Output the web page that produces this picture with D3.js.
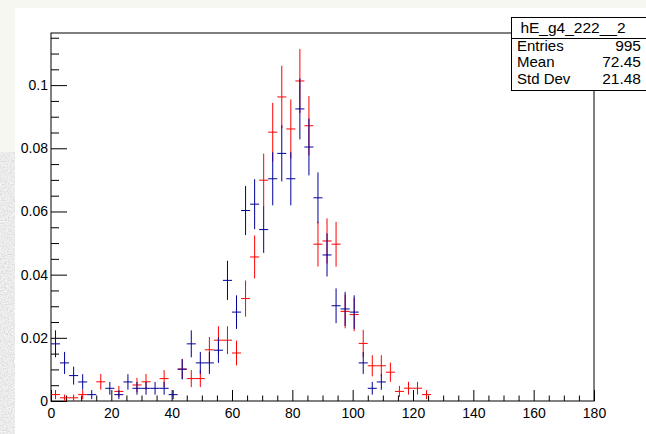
<!DOCTYPE html>
<html>
<head>
<meta charset="utf-8">
<script src="https://cdn.jsdelivr.net/npm/d3@7/dist/d3.min.js"></script>
<style>
  html, body { margin: 0; padding: 0; background: #f6f7f1; }
  svg { display: block; }
  text { font-family: "Liberation Sans", Arial, Helvetica, sans-serif; fill: #000; }
</style>
</head>
<body>
<svg id="chart" width="646" height="434"></svg>
<script>
// Histogram binning: 60 bins of width 3 over [0, 180]
const binWidth = 3;
const xRange = [0, 180];

// Bin contents (counts) for hE_g4_222__2 (blue) and the comparison sample (red)
const blueCounts = [18, 12, 8, 6, 2, 0, 4, 2, 6, 4, 4, 4, 4, 2, 10, 18, 12, 12, 16, 38,
                    28, 60, 62, 54, 70, 78, 70, 92, 80, 64, 46, 30, 29, 28, 12, 4, 6, 0, 0, 0,
                    0, 0, 0, 0, 0, 0, 0, 0, 0, 0, 0, 0, 0, 0, 0, 0, 0, 0, 0, 0];
const redCounts  = [2, 1, 1, 2, 0, 6, 0, 3, 0, 5, 6, 0, 7, 0, 10, 7, 7, 16, 19, 19,
                    15, 32, 45, 69, 84, 95, 85, 100, 86, 49, 50, 49, 28, 27, 18, 11, 11, 9, 3, 4,
                    4, 2, 0, 0, 0, 0, 0, 0, 0, 0, 0, 0, 0, 0, 0, 0, 0, 0, 0, 0];

// Axis ticks
const xMajorTicks = [0, 20, 40, 60, 80, 100, 120, 140, 160, 180];
const yMajorTicks = [0, 0.02, 0.04, 0.06, 0.08, 0.1];
const yTickLabels = ["0", "0.02", "0.04", "0.06", "0.08", "0.1"];
const yMax = 0.1165;

// Statistics box
const statsTitle = "hE_g4_222__2";
const statsNames = ["Entries", "Mean", "Std Dev"];
const statsValues = ["995", "72.45", "21.48"];

const svg = d3.select("#chart");
const W = 646, H = 434;

// Page backdrop
const defs = svg.append("defs");
const grain = defs.append("filter").attr("id", "grain").attr("x", 0).attr("y", 0)
  .attr("width", "100%").attr("height", "100%");
grain.append("feTurbulence").attr("type", "fractalNoise").attr("baseFrequency", 0.7)
  .attr("numOctaves", 2).attr("seed", 4).attr("result", "n");
grain.append("feColorMatrix").attr("in", "n").attr("type", "matrix")
  .attr("values", "0.25 0.25 0.25 0 0.45  0.25 0.25 0.25 0 0.45  0.25 0.25 0.25 0 0.45  0 0 0 0 1")
  .attr("result", "g");
grain.append("feComposite").attr("in", "g").attr("in2", "SourceGraphic").attr("operator", "in");

svg.append("rect").attr("x", 0).attr("y", 0).attr("width", W).attr("height", H).attr("fill", "#f6f7f1");
svg.append("rect").attr("x", 0).attr("y", 152).attr("width", 15).attr("height", H - 152)
  .attr("fill", "#cfcfcf").attr("filter", "url(#grain)");
svg.append("rect").attr("x", 15).attr("y", 8).attr("width", W - 15).attr("height", H - 8).attr("fill", "#ffffff");

// Frame geometry
const frame = { left: 51, right: 594, top: 33, bottom: 401 };
const x = d3.scaleLinear().domain(xRange).range([frame.left, frame.right]);
const y = d3.scaleLinear().domain([0, yMax]).range([frame.bottom, frame.top]);

defs.append("clipPath").attr("id", "frameClip")
  .append("rect").attr("x", frame.left).attr("y", frame.top)
  .attr("width", frame.right - frame.left).attr("height", frame.bottom - frame.top);

// Axes: ticks point into the frame
const xMinor = d3.range(0, 181, 5).filter(v => v % 20 !== 0);
const yMinor = d3.range(0, 0.1166, 0.005).filter(v => Math.abs(v / 0.02 - Math.round(v / 0.02)) > 1e-6);

const xAxisMinor = svg.append("g").attr("transform", `translate(0,${frame.bottom})`)
  .call(d3.axisBottom(x).tickValues(xMinor).tickSize(-5.5).tickSizeOuter(0).tickFormat(""));
xAxisMinor.select(".domain").remove();
const xAxisMajor = svg.append("g").attr("transform", `translate(0,${frame.bottom})`)
  .call(d3.axisBottom(x).tickValues(xMajorTicks).tickSize(-11).tickSizeOuter(0).tickPadding(7)
    .tickFormat(d3.format("d")));
xAxisMajor.select(".domain").remove();

const yAxisMinor = svg.append("g").attr("transform", `translate(${frame.left},0)`)
  .call(d3.axisLeft(y).tickValues(yMinor).tickSize(-8).tickSizeOuter(0).tickFormat(""));
yAxisMinor.select(".domain").remove();
const yAxisMajor = svg.append("g").attr("transform", `translate(${frame.left},0)`)
  .call(d3.axisLeft(y).tickValues(yMajorTicks).tickSize(-16).tickSizeOuter(0).tickPadding(3)
    .tickFormat((d, i) => yTickLabels[i]));
yAxisMajor.select(".domain").remove();

svg.selectAll(".tick line").attr("stroke", "#000").attr("stroke-width", 1);
svg.selectAll(".tick text").attr("font-size", 14)
  .attr("font-family", "'Liberation Sans', Arial, Helvetica, sans-serif").attr("fill", "#000");

// Frame
svg.append("rect").attr("x", frame.left).attr("y", frame.top)
  .attr("width", frame.right - frame.left).attr("height", frame.bottom - frame.top)
  .attr("fill", "none").attr("stroke", "#000").attr("stroke-width", 1);

// Normalised histograms drawn with error crosses (skip empty bins)
function drawHist(counts, color) {
  const total = d3.sum(counts);
  const bins = counts.map((c, i) => ({
    lo: i * binWidth, hi: (i + 1) * binWidth, mid: (i + 0.5) * binWidth,
    v: c / total, e: Math.sqrt(c) / total, c
  })).filter(d => d.c > 0);
  const g = svg.append("g").attr("clip-path", "url(#frameClip)")
    .attr("stroke", color).attr("stroke-width", 1).attr("fill", "none");
  g.selectAll("line.h").data(bins).join("line").attr("class", "h")
    .attr("x1", d => x(d.lo)).attr("x2", d => x(d.hi))
    .attr("y1", d => y(d.v)).attr("y2", d => y(d.v));
  g.selectAll("line.v").data(bins).join("line").attr("class", "v")
    .attr("x1", d => x(d.mid)).attr("x2", d => x(d.mid))
    .attr("y1", d => y(d.v + d.e)).attr("y2", d => y(Math.max(0, d.v - d.e)));
}
drawHist(redCounts, "#ff0000");
drawHist(blueCounts, "#000099");

// Statistics box
const sb = { x: 511, y: 17, w: 140, h: 73, sep: 38 };
svg.append("rect").attr("x", sb.x + 0.5).attr("y", sb.y + 0.5).attr("width", sb.w).attr("height", sb.h)
  .attr("fill", "#fff").attr("stroke", "#000").attr("stroke-width", 1);
svg.append("line").attr("x1", sb.x).attr("x2", sb.x + sb.w).attr("y1", sb.sep + 0.5).attr("y2", sb.sep + 0.5)
  .attr("stroke", "#000").attr("stroke-width", 1);
svg.append("text").attr("x", 573).attr("y", 33).attr("text-anchor", "middle")
  .attr("font-size", 15.5).text(statsTitle);
const rowY = [51, 67, 84];
statsNames.forEach((n, i) => {
  svg.append("text").attr("x", 517).attr("y", rowY[i]).attr("font-size", 15).text(n);
  svg.append("text").attr("x", 641).attr("y", rowY[i]).attr("text-anchor", "end")
    .attr("font-size", 15.5).text(statsValues[i]);
});
</script>
</body>
</html>
